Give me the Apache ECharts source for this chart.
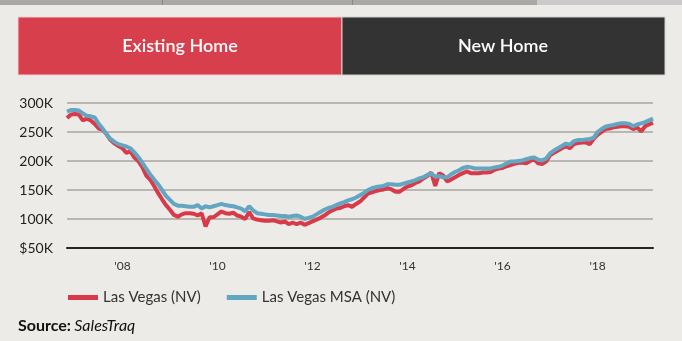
<!DOCTYPE html>
<html><head><meta charset="utf-8">
<script src="https://cdn.jsdelivr.net/npm/echarts@6/dist/echarts.min.js"></script>
<style>html,body{margin:0;padding:0;background:#EDEBE7}#c{width:682px;height:341px}</style>
</head><body><div id="c"></div>
<script>
// monthly, Nov 2006 .. Mar 2019
const startYear = 2006, startMonth = 11;
const lasVegas = [274,280,
281,280,270,273,270,264,256,254,246,236,230,226,
222,214,217,206,200,190,175,168,157,145,134,124,
116,107,104,108,110,110,109,106,110,87,103,103,
108,113,110,109,111,106,104,100,112,101,99,98,
97,97,98,96,94,96,91,94,91,94,90,93,
96,99,102,106,111,115,118,119,122,124,121,126,
130,137,144,146,148,150,151,153,151,147,147,152,
156,158,162,165,170,174,180,157,179,175,165,168,
172,176,179,182,179,179,179,180,180,181,185,187,
188,191,193,195,197,197,196,200,203,196,195,199,
210,214,218,222,226,222,229,231,232,232,229,238,
245,250,255,256,258,259,260,260,259,255,258,251,
260,263,266];
const lasVegasMSA = [285,288,
288,287,282,278,277,275,264,256,246,238,233,229,
227,225,222,215,207,197,187,177,168,160,150,140,
133,126,123,123,122,121,121,124,118,122,120,122,
124,126,124,123,122,120,118,113,122,115,110,109,
108,107,107,106,105,105,104,105,106,104,100,102,
104,108,112,116,119,121,124,127,129,132,134,137,
141,145,150,153,155,156,157,160,160,159,159,161,
163,165,167,170,172,176,178,173,174,172,172,177,
181,184,188,190,189,187,187,187,187,187,189,190,
192,196,199,199,200,201,203,205,206,202,201,204,
213,218,222,226,230,228,234,236,236,237,238,240,
250,255,259,261,262,264,265,265,264,260,263,265,
267,270,273];
const yTicks = ['$50K','100K','150K','200K','250K','300K'];
const seriesNames = ['Las Vegas (NV)','Las Vegas MSA (NV)'];
const tabLabels = ['Existing Home','New Home'];

const months = [];
for (let i = 0; i < lasVegas.length; i++) {
  const m0 = startMonth - 1 + i;
  const y = startYear + Math.floor(m0 / 12), m = m0 % 12 + 1;
  months.push(y + '-' + (m < 10 ? '0' : '') + m);
}
const FONT = 'Lato, "Open Sans", sans-serif';
const chart = echarts.init(document.getElementById('c'));
chart.setOption({
  backgroundColor: '#EDEBE7',
  animation: false,
  grid: {left: 67, right: 29, top: 103, bottom: 93},
  xAxis: {
    type: 'category', data: months, boundaryGap: false,
    axisLine: {lineStyle: {color: '#222', width: 2}},
    axisTick: {show: false},
    axisLabel: {
      interval: function (i, v) { const p = v.split('-'); return p[1] === '01' && (+p[0]) % 2 === 0; },
      formatter: function (v) { return "'" + v.slice(2, 4); },
      color: '#333', fontFamily: FONT, fontSize: 12, margin: 12
    },
    splitLine: {show: false}
  },
  yAxis: {
    type: 'value', min: 50000, max: 300000, interval: 50000,
    axisLine: {show: false}, axisTick: {show: false},
    axisLabel: {
      formatter: function (v) { return yTicks[Math.round((v - 50000) / 50000)]; },
      color: '#222', fontFamily: FONT, fontSize: 14, margin: 14
    },
    splitLine: {lineStyle: {color: '#B9B7B2', width: 2}}
  },
  legend: {
    left: 63, top: 285, itemWidth: 30, itemHeight: 5, itemGap: 26, icon: 'rect',
    textStyle: {color: '#333', fontFamily: FONT, fontSize: 15},
    data: seriesNames
  },
  series: [
    {name: seriesNames[0], type: 'line', data: lasVegas.map(v => v * 1000), showSymbol: false,
     lineStyle: {color: '#D83A4A', width: 4}, itemStyle: {color: '#D83A4A'}},
    {name: seriesNames[1], type: 'line', data: lasVegasMSA.map(v => v * 1000), showSymbol: false,
     lineStyle: {color: '#62A6C2', width: 4}, itemStyle: {color: '#62A6C2'}}
  ],
  graphic: [
    {type: 'rect', shape: {x: 0, y: 0, width: 537, height: 5}, style: {fill: '#A9A8A7'}},
    {type: 'rect', shape: {x: 537, y: 0, width: 145, height: 5}, style: {fill: '#CACACA'}},
    {type: 'rect', shape: {x: 162, y: 0, width: 1, height: 5}, style: {fill: '#888'}},
    {type: 'rect', shape: {x: 352, y: 0, width: 1, height: 5}, style: {fill: '#888'}},
    {type: 'rect', shape: {x: 18, y: 17, width: 324, height: 58}, style: {fill: '#D73F4C', stroke: '#F4D0D2', lineWidth: 1}},
    {type: 'rect', shape: {x: 342, y: 17, width: 323, height: 58}, style: {fill: '#333333', stroke: '#CFCFCF', lineWidth: 1}},
    {type: 'text', x: 180, y: 46, style: {text: tabLabels[0], fill: '#fff', font: '600 18px ' + FONT, align: 'center', verticalAlign: 'middle'}},
    {type: 'text', x: 503, y: 46, style: {text: tabLabels[1], fill: '#fff', font: '600 18px ' + FONT, align: 'center', verticalAlign: 'middle'}},
    {type: 'text', x: 18, y: 326, style: {
      text: '{b|Source:} {i|SalesTraq}', verticalAlign: 'middle',
      rich: {b: {fontWeight: 'bold', fontSize: 16, fill: '#111', fontFamily: FONT},
             i: {fontStyle: 'italic', fontSize: 16, fill: '#111', fontFamily: FONT}}
    }}
  ]
});
</script></body></html>
